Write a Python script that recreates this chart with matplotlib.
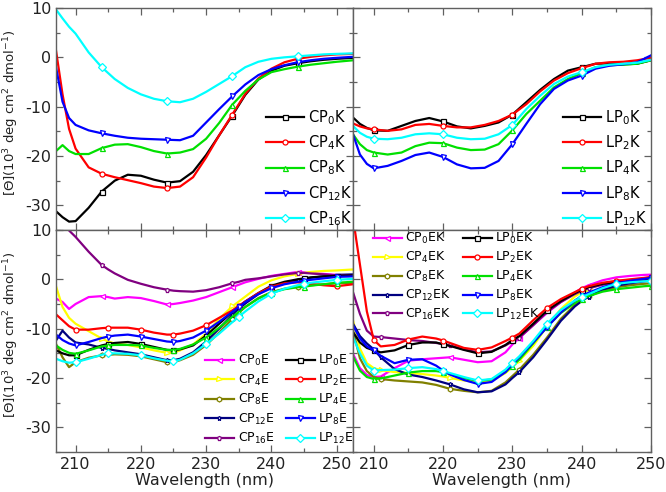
import numpy as np
import matplotlib
matplotlib.use('Agg')
import matplotlib.pyplot as plt
from matplotlib.ticker import MultipleLocator

plt.rcParams['font.family'] = ['DejaVu Sans']
plt.rcParams['mathtext.default'] = 'regular'
plt.rcParams['axes.unicode_minus'] = False

# ---------------- top-left: CPnK ----------------
wl_tl = [207, 208, 209, 210, 212, 214, 216, 218, 220, 222, 224, 226, 228, 230,
         232, 234, 236, 238, 240, 242, 244, 246, 248, 250, 252.5]
cp0k = [-31.2, -32.4, -33.3, -33.2, -30.5, -27.2, -25.0, -23.8, -24.0, -24.8, -25.4, -25.1, -23.2, -19.8,
        -15.8, -11.8, -7.6, -4.5, -2.7, -1.7, -1.2, -0.8, -0.5, -0.3, -0.1]
cp4k = [1.4, -7.5, -14.5, -18.5, -22.3, -23.6, -24.3, -24.9, -25.5, -26.2, -26.5, -26.2, -24.3, -20.3,
        -15.8, -11.6, -7.4, -4.3, -2.3, -1.0, -0.3, 0.1, 0.4, 0.6, 0.7]
cp8k = [-19.0, -17.8, -19.0, -19.6, -19.6, -18.4, -17.7, -17.6, -18.2, -19.0, -19.5, -19.3, -18.6, -16.5,
        -13.3, -9.6, -6.8, -4.5, -3.0, -2.4, -1.9, -1.5, -1.2, -0.9, -0.6]
cp12k = [-2.0, -9.0, -12.3, -13.7, -14.8, -15.4, -15.9, -16.3, -16.5, -16.6, -16.7, -16.8, -15.9, -13.2,
         -10.5, -7.9, -5.5, -3.6, -2.4, -1.6, -1.0, -0.6, -0.3, -0.1, 0.1]
cp16k = [9.7, 7.9, 6.2, 4.8, 1.0, -2.0, -4.4, -6.2, -7.5, -8.4, -8.9, -9.1, -8.4, -7.0,
         -5.4, -3.8, -2.0, -0.9, -0.3, 0.0, 0.2, 0.4, 0.6, 0.7, 0.8]

# ---------------- top-right: LPnK ----------------
wl_tr = [207, 208, 209, 210, 212, 214, 216, 218, 220, 222, 224, 226, 228, 230,
         232, 234, 236, 238, 240, 242, 244, 246, 248, 250]
lp0k = [-12.2, -13.5, -14.3, -14.8, -14.9, -13.9, -12.9, -12.3, -13.0, -14.0, -14.4, -13.9, -13.2, -11.6,
        -9.1, -6.6, -4.4, -2.7, -2.0, -1.3, -1.2, -1.4, -1.3, -0.6]
lp2k = [-13.4, -14.0, -14.4, -14.6, -14.9, -14.6, -13.7, -13.5, -13.9, -14.2, -14.2, -13.7, -12.9, -11.6,
        -9.5, -6.9, -4.7, -3.2, -2.2, -1.3, -1.0, -0.9, -0.6, -0.1]
lp4k = [-15.6, -17.6, -18.8, -19.3, -19.7, -19.3, -18.0, -17.3, -17.4, -18.3, -18.8, -18.7, -17.6, -14.8,
        -11.5, -8.8, -6.1, -4.4, -3.2, -2.0, -1.6, -1.5, -1.3, -0.6]
lp8k = [-15.6, -19.7, -21.6, -22.5, -22.0, -21.0, -19.8, -19.3, -20.2, -21.7, -22.5, -22.4, -21.0, -17.6,
        -13.5, -9.5, -6.4, -4.7, -3.7, -2.3, -1.7, -1.4, -1.0, 0.4]
lp12k = [-13.9, -15.3, -16.1, -16.5, -16.6, -16.3, -15.6, -15.4, -15.6, -16.3, -16.6, -16.5, -15.6, -13.7,
         -10.5, -7.8, -5.4, -3.9, -3.0, -2.0, -1.5, -1.3, -1.1, -0.5]

# ---------------- bottom-left: CPnE / LPnE ----------------
wl_bl = [207, 208, 209, 210, 212, 214, 215, 216, 218, 220, 222, 224, 225, 226, 228, 230,
         232, 234, 235, 236, 238, 240, 242, 244, 245, 246, 248, 250, 252.5]
cp0e = [-3.9, -4.6, -6.0, -5.0, -3.6, -3.4, -3.6, -3.9, -3.6, -3.8, -4.4, -5.1, -5.0, -4.8, -4.3, -3.6,
        -2.6, -1.6, -1.1, -0.6, 0.1, 0.7, 1.1, 1.5, 1.4, 1.3, 1.1, 0.9, 0.8]
cp4e = [-1.4, -5.6, -7.8, -9.0, -10.5, -12.0, -12.6, -13.0, -13.3, -13.8, -14.4, -14.9, -14.8, -14.4, -13.2, -11.0,
        -8.0, -5.5, -4.5, -3.5, -1.5, -0.2, 0.6, 1.1, 1.3, 1.5, 1.7, 1.8, 2.0]
cp8e = [-13.1, -15.8, -17.8, -16.8, -15.9, -15.4, -15.3, -15.2, -15.3, -15.6, -16.2, -16.8, -16.7, -16.4, -15.3, -13.3,
        -10.8, -8.0, -6.8, -5.6, -3.8, -2.6, -1.9, -1.5, -1.3, -1.2, -1.0, -0.8, -0.7]
cp12e = [-12.4, -10.4, -11.8, -12.8, -13.2, -13.9, -14.1, -14.4, -14.8, -15.2, -15.8, -16.4, -16.4, -16.1, -14.8, -12.6,
         -10.0, -7.2, -6.0, -4.9, -3.0, -1.6, -0.8, -0.2, 0.1, 0.3, 0.6, 0.9, 1.0]
cp16e = [13.5, 11.5, 9.9, 8.6, 5.6, 2.9, 2.0, 1.2, -0.1, -0.9, -1.6, -2.1, -2.3, -2.4, -2.5, -2.2,
         -1.6, -0.8, -0.5, -0.1, 0.2, 0.6, 1.0, 1.3, 1.3, 1.2, 1.0, 0.8, 0.8]
lp0e = [-14.4, -15.0, -15.4, -15.4, -14.3, -13.4, -13.1, -12.9, -12.7, -13.1, -13.7, -14.3, -14.4, -14.2, -13.4, -11.4,
        -9.0, -6.6, -5.5, -4.5, -2.8, -1.3, -0.5, 0.0, 0.2, 0.4, 0.6, 0.7, 0.8]
lp2e = [-7.1, -8.3, -9.5, -10.2, -10.2, -9.9, -9.8, -9.8, -9.8, -10.2, -10.8, -11.2, -11.2, -11.0, -10.4, -9.3,
        -7.8, -6.3, -5.4, -4.5, -2.8, -1.5, -0.8, -0.6, -0.7, -0.9, -1.2, -1.4, -1.0]
lp4e = [-13.4, -14.3, -14.9, -15.1, -14.4, -13.6, -13.4, -13.3, -13.3, -13.4, -13.9, -14.3, -14.3, -14.1, -13.2, -11.8,
        -9.8, -7.6, -6.6, -5.6, -3.9, -2.7, -2.0, -1.6, -1.5, -1.3, -1.0, -0.7, -0.5]
lp8e = [-11.2, -12.3, -13.0, -13.4, -12.7, -11.9, -11.6, -11.4, -11.2, -11.6, -12.1, -12.6, -12.7, -12.5, -11.8, -10.4,
        -8.6, -6.6, -5.6, -4.6, -3.0, -1.8, -1.0, -0.5, -0.3, -0.1, 0.2, 0.5, 0.6]
lp12e = [-16.1, -16.6, -16.9, -16.8, -16.1, -15.3, -15.0, -15.0, -15.1, -15.4, -16.0, -16.5, -16.6, -16.3, -15.0, -13.1,
         -11.0, -8.7, -7.6, -6.5, -4.5, -2.9, -1.9, -1.2, -0.9, -0.7, -0.4, -0.1, 0.1]

# ---------------- bottom-right: CPnEK / LPnEK ----------------
wl_br = [207, 208, 209, 210, 211, 213, 215, 217, 219, 220, 221, 223, 225, 227, 229, 230,
         231, 233, 235, 237, 239, 240, 241, 243, 245, 247, 249, 250]
cp0ek = [-15.1, -18.0, -19.4, -19.8, -19.7, -18.0, -16.5, -16.2, -16.0, -15.9, -15.8, -16.3, -16.8, -16.6, -14.8, -13.2,
         -11.9, -9.3, -6.8, -4.6, -2.7, -1.8, -1.2, -0.2, 0.4, 0.7, 0.9, 0.95]
cp4ek = [-8.3, -14.0, -17.0, -18.0, -18.4, -18.8, -19.0, -19.2, -19.5, -19.7, -20.0, -20.5, -20.9, -20.6, -19.0, -17.8,
         -16.5, -13.5, -9.5, -6.0, -3.5, -2.6, -1.9, -0.9, -0.3, -0.1, 0.0, 0.1]
cp8ek = [-10.4, -16.0, -18.6, -19.8, -20.2, -20.5, -20.7, -20.9, -21.4, -21.8, -22.2, -22.6, -22.9, -22.6, -20.9, -19.6,
         -18.3, -15.3, -11.8, -8.0, -5.2, -4.2, -3.4, -2.3, -1.6, -1.2, -0.9, -0.8]
cp12ek = [-9.0, -11.5, -13.0, -14.2, -15.8, -18.2, -19.3, -19.8, -20.5, -20.9, -21.3, -22.3, -22.9, -22.7, -21.3, -20.0,
          -18.8, -15.8, -12.2, -8.4, -5.5, -4.4, -3.5, -2.1, -1.3, -0.8, -0.4, -0.2]
cp16ek = [-2.6, -7.0, -10.4, -11.6, -11.7, -12.0, -12.3, -12.5, -12.9, -13.1, -13.4, -14.2, -14.8, -14.6, -13.4, -12.6,
          -11.8, -9.3, -6.6, -4.6, -3.0, -2.3, -1.8, -1.1, -0.6, -0.3, 0.0, 0.2]
lp0ek = [-10.7, -12.8, -13.9, -14.4, -14.8, -14.4, -13.3, -12.8, -12.8, -13.2, -13.5, -14.3, -15.0, -14.7, -13.3, -12.3,
         -11.5, -9.0, -6.3, -4.4, -2.8, -2.1, -1.6, -0.9, -0.5, -0.2, 0.1, 0.3]
lp2ek = [12.5, 3.0, -6.5, -12.3, -13.6, -13.3, -12.2, -11.6, -12.0, -12.4, -12.9, -13.9, -14.3, -13.8, -12.5, -11.8,
         -11.0, -8.3, -5.8, -4.0, -2.6, -1.9, -1.4, -0.7, -0.3, 0.0, 0.3, 0.5]
lp4ek = [-15.6, -18.5, -19.8, -20.2, -20.1, -19.5, -18.9, -18.6, -18.6, -18.8, -19.2, -20.0, -20.6, -20.3, -18.8, -17.5,
         -16.3, -13.0, -9.6, -6.8, -4.8, -4.0, -3.4, -2.5, -2.0, -1.7, -1.4, -1.3]
lp8ek = [-9.3, -12.0, -13.6, -14.4, -15.5, -17.0, -16.3, -16.2, -17.5, -18.5, -19.3, -20.4, -21.2, -20.8, -18.8, -17.2,
         -15.8, -12.8, -9.7, -6.7, -4.3, -3.4, -2.7, -1.6, -0.8, -0.3, 0.1, 0.3]
lp12ek = [-11.7, -15.0, -17.5, -18.5, -18.4, -18.3, -18.0, -17.8, -18.2, -18.6, -19.0, -19.8, -20.5, -20.2, -18.3, -16.9,
          -15.6, -12.5, -9.0, -6.2, -4.3, -3.6, -3.0, -1.8, -0.9, -0.6, -0.4, -0.3]

# ---------------- styling ----------------
C = dict(black='#000000', red='#ff0000', green='#00e000', blue='#0000ff', cyan='#00ffff',
         magenta='#ff00ff', yellow='#ffff00', olive='#808000', navy='#000080', purple='#800080')

fig = plt.figure(figsize=(6.66, 4.92), dpi=100)
W, H = 666.0, 492.0
xl, xm, xr = 56, 353, 651
yt, ym, yb = 8, 230, 452
ax_tl = fig.add_axes([xl / W, 1 - ym / H, (xm - xl) / W, (ym - yt) / H])
ax_tr = fig.add_axes([xm / W, 1 - ym / H, (xr - xm) / W, (ym - yt) / H])
ax_bl = fig.add_axes([xl / W, 1 - yb / H, (xm - xl) / W, (yb - ym) / H])
ax_br = fig.add_axes([xm / W, 1 - yb / H, (xr - xm) / W, (yb - ym) / H])

spine_c = '#606060'
for ax in (ax_tl, ax_tr, ax_bl, ax_br):
    ax.set_ylim(-35, 10)
    ax.xaxis.set_major_locator(MultipleLocator(10))
    ax.xaxis.set_minor_locator(MultipleLocator(5))
    ax.yaxis.set_major_locator(MultipleLocator(10))
    ax.yaxis.set_minor_locator(MultipleLocator(5))
    ax.tick_params(which='both', direction='in', top=True, right=True, color=spine_c,
                   labelsize=11.5, labelcolor='#222222', width=0.9)
    ax.tick_params(which='major', length=5)
    ax.tick_params(which='minor', length=3)
    for s in ax.spines.values():
        s.set_color(spine_c)
        s.set_linewidth(1.0)
ax_tl.set_xlim(207, 252.5)
ax_bl.set_xlim(207, 252.5)
ax_tr.set_xlim(207, 250)
ax_br.set_xlim(207, 250)
for ax in (ax_tl, ax_tr):
    ax.tick_params(labelbottom=False)
for ax in (ax_tr, ax_br):
    ax.tick_params(labelleft=False)

ylab = r'[$\Theta$](10$^3$ deg cm$^2$ dmol$^{-1}$)'
for ax in (ax_tl, ax_bl):
    ax.set_ylabel(ylab, fontsize=9.5, color='#222222')
    ax.yaxis.set_label_coords(-0.117, 0.53)
for ax in (ax_bl, ax_br):
    ax.set_xlabel('Wavelength (nm)', fontsize=11.5, color='#222222', labelpad=1)


def draw(ax, x, y, color, marker, label, marks):
    idx = [i for i, w in enumerate(x) if w in marks]
    ax.plot(x, y, color=color, lw=1.6, marker=marker, markevery=idx, ms=3.6,
            mfc='white', mec=color, mew=0.9, label=label)


m_tl = [214, 224, 234, 244]
draw(ax_tl, wl_tl, cp0k, C['black'], 's', r'CP$_0$K', m_tl)
draw(ax_tl, wl_tl, cp4k, C['red'], 'o', r'CP$_4$K', m_tl)
draw(ax_tl, wl_tl, cp8k, C['green'], '^', r'CP$_8$K', m_tl)
draw(ax_tl, wl_tl, cp12k, C['blue'], 'v', r'CP$_{12}$K', m_tl)
draw(ax_tl, wl_tl, cp16k, C['cyan'], 'D', r'CP$_{16}$K', m_tl)

m_tr = [210, 220, 230, 240]
draw(ax_tr, wl_tr, lp0k, C['black'], 's', r'LP$_0$K', m_tr)
draw(ax_tr, wl_tr, lp2k, C['red'], 'o', r'LP$_2$K', m_tr)
draw(ax_tr, wl_tr, lp4k, C['green'], '^', r'LP$_4$K', m_tr)
draw(ax_tr, wl_tr, lp8k, C['blue'], 'v', r'LP$_8$K', m_tr)
draw(ax_tr, wl_tr, lp12k, C['cyan'], 'D', r'LP$_{12}$K', m_tr)

m_cp = [214, 224, 234, 244]
m_lp = [210, 215, 220, 225, 230, 235, 240, 245, 250]
draw(ax_bl, wl_bl, cp0e, C['magenta'], '<', r'CP$_0$E', m_cp)
draw(ax_bl, wl_bl, cp4e, C['yellow'], '>', r'CP$_4$E', m_cp)
draw(ax_bl, wl_bl, cp8e, C['olive'], 'h', r'CP$_8$E', m_cp)
draw(ax_bl, wl_bl, cp12e, C['navy'], '*', r'CP$_{12}$E', m_cp)
draw(ax_bl, wl_bl, cp16e, C['purple'], 'p', r'CP$_{16}$E', m_cp)
draw(ax_bl, wl_bl, lp0e, C['black'], 's', r'LP$_0$E', m_lp)
draw(ax_bl, wl_bl, lp2e, C['red'], 'o', r'LP$_2$E', m_lp)
draw(ax_bl, wl_bl, lp4e, C['green'], '^', r'LP$_4$E', m_lp)
draw(ax_bl, wl_bl, lp8e, C['blue'], 'v', r'LP$_8$E', m_lp)
draw(ax_bl, wl_bl, lp12e, C['cyan'], 'D', r'LP$_{12}$E', m_lp)

m_cpk = [211, 221, 231, 241]
draw(ax_br, wl_br, cp0ek, C['magenta'], '<', r'CP$_0$EK', m_cpk)
draw(ax_br, wl_br, cp4ek, C['yellow'], '>', r'CP$_4$EK', m_cpk)
draw(ax_br, wl_br, cp8ek, C['olive'], 'h', r'CP$_8$EK', m_cpk)
draw(ax_br, wl_br, cp12ek, C['navy'], '*', r'CP$_{12}$EK', m_cpk)
draw(ax_br, wl_br, cp16ek, C['purple'], 'p', r'CP$_{16}$EK', m_cpk)
draw(ax_br, wl_br, lp0ek, C['black'], 's', r'LP$_0$EK', m_lp)
draw(ax_br, wl_br, lp2ek, C['red'], 'o', r'LP$_2$EK', m_lp)
draw(ax_br, wl_br, lp4ek, C['green'], '^', r'LP$_4$EK', m_lp)
draw(ax_br, wl_br, lp8ek, C['blue'], 'v', r'LP$_8$EK', m_lp)
draw(ax_br, wl_br, lp12ek, C['cyan'], 'D', r'LP$_{12}$EK', m_lp)

leg_kw = dict(frameon=False, numpoints=1, borderpad=0, borderaxespad=0)
ax_tl.legend(loc='center left', bbox_to_anchor=(0.707, 0.279), fontsize=10.5,
             handlelength=2.6, handletextpad=0.3, labelspacing=0.45, **leg_kw)
ax_tr.legend(loc='center left', bbox_to_anchor=(0.705, 0.279), fontsize=10.5,
             handlelength=2.6, handletextpad=0.3, labelspacing=0.45, **leg_kw)
ax_bl.legend(loc='center left', bbox_to_anchor=(0.502, 0.236), fontsize=9, ncol=2,
             handlelength=2.3, handletextpad=0.3, labelspacing=0.35, columnspacing=0.9, **leg_kw)
ax_br.legend(loc='center left', bbox_to_anchor=(0.067, 0.79), fontsize=9, ncol=2,
             handlelength=2.3, handletextpad=0.3, labelspacing=0.3, columnspacing=0.9, **leg_kw)

fig.savefig('out.png', dpi=100)
